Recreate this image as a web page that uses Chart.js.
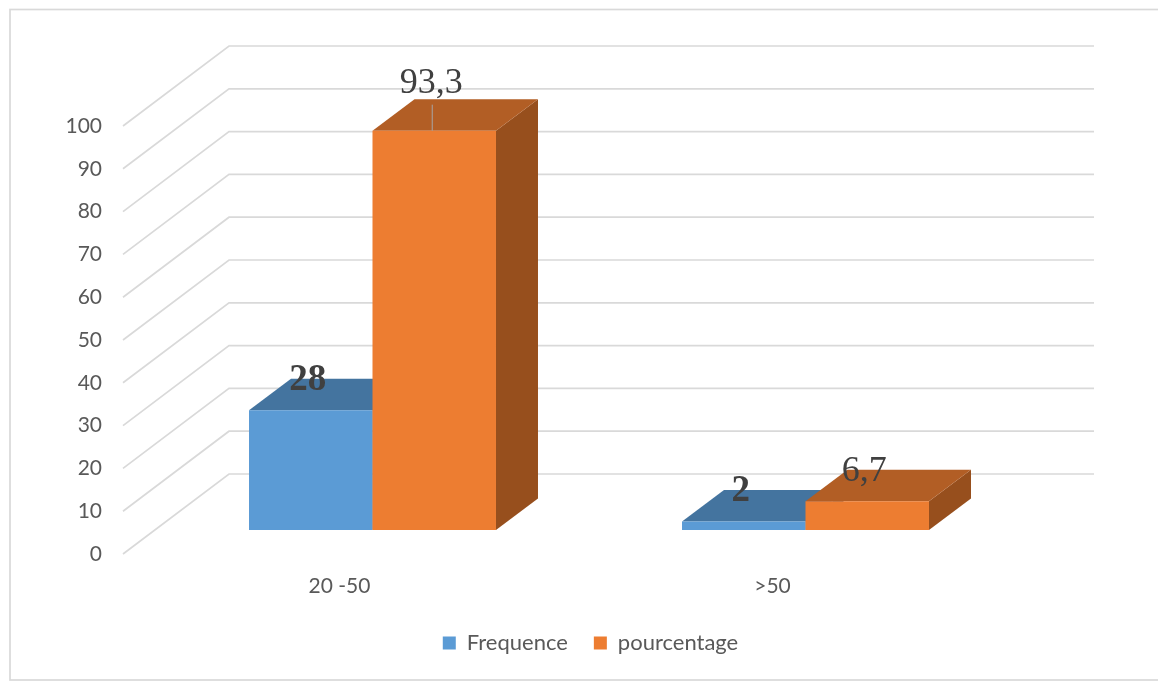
<!DOCTYPE html>
<html>
<head>
<meta charset="utf-8">
<style>
html,body{margin:0;padding:0;background:#fff}
canvas{display:block}
</style>
<script src="https://cdn.jsdelivr.net/npm/chart.js@4"></script>
</head>
<body>
<div style="width:1158px;height:681px"><canvas id="c" width="1158" height="681"></canvas></div>
<script>
const categories = ['20 -50', '>50'];
const frequence = [28, 2];
const pourcentage = [93.3, 6.7];
const frequenceLabels = ['28', '2'];
const pourcentageLabels = ['93,3', '6,7'];
const yTicks = [0, 10, 20, 30, 40, 50, 60, 70, 80, 90, 100];

// Pseudo-3D geometry: wall depth and the depth plane the columns stand on.
const WALL = { dx: 106, dy: 80, width: 865 };
const PLANE = { dx: 33, dy: 24 };
const BOX = { dx: 42, dy: 31.5 };

const faces = [
  { top: '#44749F', side: '#3A6690' },
  { top: '#B25E25', side: '#974F1D' }
];
const labelStyles = [
  { font: 'bold 37px "Liberation Serif"', texts: frequenceLabels, lift: [0, 0] },
  { font: '36px "Liberation Serif"', texts: pourcentageLabels, lift: [17.5, 0] }
];

const wallPlugin = {
  id: 'wall',
  beforeDatasetsDraw(chart) {
    const { ctx, scales: { y }, chartArea } = chart;
    const x0 = chartArea.left;
    ctx.save();
    ctx.strokeStyle = '#D9D9D9';
    ctx.lineWidth = 1.7;
    yTicks.forEach(v => {
      const py = y.getPixelForValue(v);
      ctx.beginPath();
      ctx.moveTo(x0, py);
      ctx.lineTo(x0 + WALL.dx, py - WALL.dy);
      ctx.lineTo(x0 + WALL.dx + WALL.width, py - WALL.dy);
      ctx.stroke();
    });
    ctx.restore();
  }
};

function drawFaces(ctx, meta, style) {
  meta.data.forEach(bar => {
    const p = bar.getProps(['x', 'y', 'base', 'width'], true);
    const l = p.x - p.width / 2, r = p.x + p.width / 2;
    ctx.fillStyle = style.side;
    ctx.beginPath();
    ctx.moveTo(r, p.y);
    ctx.lineTo(r + BOX.dx, p.y - BOX.dy);
    ctx.lineTo(r + BOX.dx, p.base - BOX.dy);
    ctx.lineTo(r, p.base);
    ctx.closePath();
    ctx.fill();
    ctx.fillStyle = style.top;
    ctx.beginPath();
    ctx.moveTo(l, p.y);
    ctx.lineTo(l + BOX.dx, p.y - BOX.dy);
    ctx.lineTo(r + BOX.dx, p.y - BOX.dy);
    ctx.lineTo(r, p.y);
    ctx.closePath();
    ctx.fill();
  });
}

const boxPlugin = {
  id: 'boxes',
  // The second series sits in front, so it is held back until the first is done.
  beforeDatasetDraw(chart, args) {
    if (args.index === 1) return false;
    const { ctx } = chart;
    ctx.save();
    ctx.translate(PLANE.dx, -PLANE.dy);
    drawFaces(ctx, args.meta, faces[args.index]);
  },
  afterDatasetDraw(chart) {
    chart.ctx.restore();
  },
  afterDatasetsDraw(chart) {
    const { ctx } = chart;
    ctx.save();
    ctx.translate(PLANE.dx, -PLANE.dy);
    const front = chart.getDatasetMeta(1);
    drawFaces(ctx, front, faces[1]);
    front.controller.draw();
    ctx.textAlign = 'center';
    ctx.textBaseline = 'alphabetic';
    ctx.fillStyle = '#404040';
    labelStyles.forEach((style, i) => {
      const meta = chart.getDatasetMeta(i);
      ctx.font = style.font;
      meta.data.forEach((bar, j) => {
        const p = bar.getProps(['x', 'y'], true);
        const lift = style.lift[j];
        if (lift) {
          // Leader line joining a displaced label to its column.
          ctx.strokeStyle = '#A6A6A6';
          ctx.lineWidth = 1;
          ctx.beginPath();
          ctx.moveTo(p.x - 2, p.y);
          ctx.lineTo(p.x - 2, p.y - 26);
          ctx.stroke();
        }
        ctx.fillText(style.texts[j], p.x - 3, p.y - 20.5 - lift);
      });
    });
    ctx.restore();
  }
};

const framePlugin = {
  id: 'frame',
  beforeDraw(chart) {
    const { ctx } = chart;
    ctx.save();
    ctx.strokeStyle = '#D9D9D9';
    ctx.lineWidth = 1.7;
    ctx.strokeRect(10, 9.5, 1200, 670.5);
    ctx.restore();
  }
};

// Keeps the legend centred under the whole frame rather than the plot.
const legendShift = {
  id: 'legendShift',
  afterLayout(chart) {
    const legend = chart.legend;
    legend.left = 23; legend.right = 1158;
    legend.top = 606; legend.bottom = 681;
    legend.adjustHitBoxes();
  }
};

new Chart(document.getElementById('c'), {
  type: 'bar',
  data: {
    labels: categories,
    datasets: [
      { label: 'Frequence', data: frequence, backgroundColor: '#5B9BD5', clip: false },
      { label: 'pourcentage', data: pourcentage, backgroundColor: '#ED7D31', clip: false }
    ]
  },
  options: {
    responsive: false,
    animation: false,
    categoryPercentage: 0.5704,
    barPercentage: 1,
    layout: { padding: { top: 126, right: 169, bottom: 0, left: 0 } },
    plugins: {
      legend: {
        position: 'bottom',
        labels: {
          boxWidth: 13, boxHeight: 13, padding: 26,
          color: '#595959',
          font: { family: 'Lato', size: 22 }
        }
      },
      tooltip: { enabled: false }
    },
    scales: {
      x: {
        grid: { display: false },
        border: { display: false },
        ticks: { color: '#595959', font: { family: 'Lato', size: 21 }, padding: 12 },
        afterFit(s) { s.height = 69; }
      },
      y: {
        min: 0, max: 100,
        grid: { display: false, drawTicks: false },
        border: { display: false },
        afterBuildTicks(s) { s.ticks = yTicks.map(value => ({ value })); },
        ticks: { color: '#595959', font: { family: 'Lato', size: 21 }, padding: 21, autoSkip: false },
        afterFit(s) { s.width = 123; }
      }
    }
  },
  plugins: [framePlugin, wallPlugin, boxPlugin, legendShift]
});
</script>
</body>
</html>
